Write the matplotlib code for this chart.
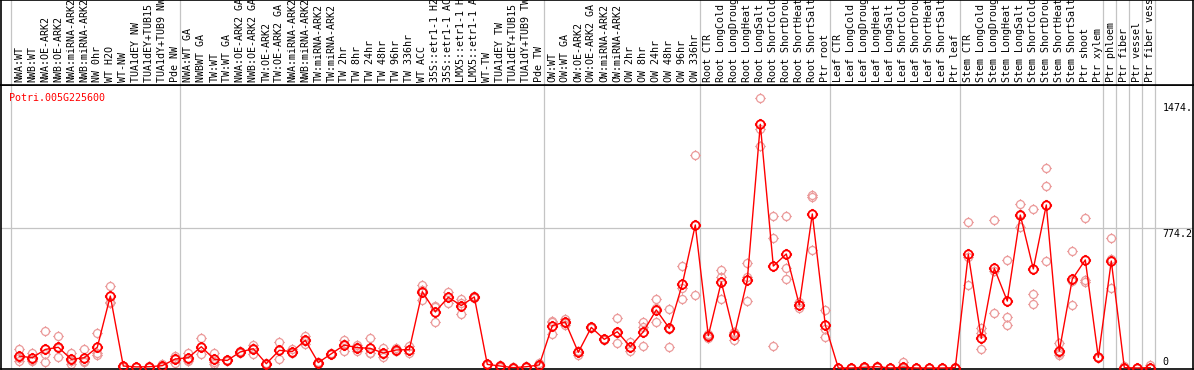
"""Expression profile of Potri.005G225600 across sample groups."""

import numpy as np
import matplotlib
matplotlib.use("Agg")
import matplotlib.pyplot as plt
from matplotlib.path import Path


GENE = "Potri.005G225600"

labels = [
    "NWA:WT", "NWB:WT", "NWA:OE-ARK2", "NWB:OE-ARK2", "NWA:miRNA-ARK2",
    "NWB:miRNA-ARK2", "NW 0hr", "WT H2O", "WT-NW", "TUA1dEY NW",
    "TUA1dEY+TUB15 NW", "TUA1dY+TUB9 NW", "Pde NW",
    "NWA:WT GA", "NWBWT GA", "TW:WT", "TW:WT GA", "NWA:OE-ARK2 GA",
    "NWB:OE-ARK2 GA", "TW:OE-ARK2", "TW:OE-ARK2 GA", "NWA:miRNA-ARK2",
    "NWB:miRNA-ARK2", "TW:miRNA-ARK2", "TW:miRNA-ARK2", "TW 2hr", "TW 8hr",
    "TW 24hr", "TW 48hr", "TW 96hr", "TW 336hr", "WT ACC",
    "35S::etr1-1 H2O", "35S::etr1-1 ACC", "LMX5::etr1-1 H2O",
    "LMX5::etr1-1 ACC", "WT-TW", "TUA1dEY TW", "TUA1dEY+TUB15 TW",
    "TUA1dY+TUB9 TW", "Pde TW",
    "OW:WT", "OW:WT GA", "OW:OE-ARK2", "OW:OE-ARK2 GA", "OW:miRNA-ARK2",
    "OW:miRNA-ARK2", "OW 2hr", "OW 8hr", "OW 24hr", "OW 48hr", "OW 96hr",
    "OW 336hr",
    "Root CTR", "Root LongCold", "Root LongDrought", "Root LongHeat",
    "Root LongSalt", "Root ShortCold", "Root ShortDrought", "Root ShortHeat",
    "Root ShortSalt", "Ptr root",
    "Leaf CTR", "Leaf LongCold", "Leaf LongDrought", "Leaf LongHeat",
    "Leaf LongSalt", "Leaf ShortCold", "Leaf ShortDrought", "Leaf ShortHeat",
    "Leaf ShortSalt", "Ptr leaf",
    "Stem CTR", "Stem LongCold", "Stem LongDrought", "Stem LongHeat",
    "Stem LongSalt", "Stem ShortCold", "Stem ShortDrought", "Stem ShortHeat",
    "Stem ShortSalt", "Ptr shoot", "Ptr xylem",
    "Ptr phloem", "Ptr fiber", "Ptr vessel", "Ptr fiber vessel",
]

# index of the first sample of each group (gray separators)
group_starts = [0, 13, 41, 53, 63, 73, 84, 85, 86, 87, 88]

means = [
    66, 57, 103, 115, 48, 57, 115, 399, 11, 6, 7, 13, 50,
    57, 118, 48, 42, 89, 107, 24, 98, 91, 153, 30, 79, 127, 113, 109, 83,
    100, 102, 423, 312, 392, 346, 394, 20, 11, 2, 7, 17,
    235, 255, 87, 225, 159, 201, 118, 201, 322, 220, 464, 793,
    179, 477, 183, 488, 1351, 565, 632, 349, 854, 238,
    0, 0, 4, 7, 0, 4, 0, 0, 0, 2,
    630, 164, 552, 371, 848, 549, 904, 94, 493, 599, 59,
    593, 2, 0, 2,
]

rep_a = [
    103, 85, 203, 177, 85, 103, 194, 453, 8, 4, 5, 24, 66,
    85, 164, 85, 44, 85, 129, 24, 144, 107, 179, 33, 80, 153, 127, 164, 111,
    109, 122, 460, 346, 423, 381, 400, 18, 18, 0, 5, 28,
    261, 273, 72, 230, 159, 275, 146, 257, 381, 327, 564, 1181,
    164, 543, 155, 580, 1495, 843, 843, 368, 959, 322,
    0, 0, 6, 13, 0, 35, 0, 0, 0, 2,
    807, 220, 820, 597, 909, 880, 1107, 140, 649, 831, 59,
    719, 13, 0, 17,
]
rep_b = [
    41, 39, 76, 59, 20, 37, 85, 368, 12, 6, 7, 8, 30,
    39, 76, 24, 38, 92, 79, 22, 52, 82, 131, 22, 76, 94, 96, 81, 61,
    94, 83, 375, 253, 358, 297, 386, 22, 7, 3, 8, 11,
    188, 240, 95, 220, 155, 137, 94, 229, 253, 115, 442, 405,
    185, 506, 192, 506, 1231, 719, 552, 331, 946, 174,
    0, 1, 2, 4, 0, 0, 0, 0, 0, 1,
    617, 192, 538, 281, 783, 408, 1007, 81, 482, 488, 55,
    604, 0, 0, 0,
]
rep_c = [
    55, 47, 33, 109, 39, 31, 72, 358, 13, 8, 9, 7, 54,
    47, 114, 35, 44, 90, 113, 26, 98, 84, 150, 35, 82, 135, 116, 82, 78,
    96, 100, 434, 338, 395, 360, 396, 20, 8, 3, 9, 12,
    256, 252, 94, 225, 163, 192, 114, 120, 331, 218, 381, 793,
    188, 381, 202, 371, 1327, 122, 493, 349, 654, 218,
    0, 0, 4, 5, 1, 0, 0, 0, 1, 3,
    460, 103, 303, 238, 852, 353, 593, 72, 349, 479, 63,
    442, 0, 0, 0,
]

tick_values = [1474, 774.2, 0]
tick_texts = ["1474.", "774.2", "0"]


def sun_marker():
    """Open circle with four short spikes."""
    circle = Path.unit_circle()
    spikes = Path(
        [[1, 0], [1.33, 0], [-1, 0], [-1.33, 0],
         [0, 1], [0, 1.33], [0, -1], [0, -1.33]],
        [Path.MOVETO, Path.LINETO] * 4,
    )
    return Path.make_compound_path(circle, spikes)


def plot_profile():
    W, H = 1194, 370
    fig = plt.figure(figsize=(W / 100, H / 100), dpi=100)

    x = np.arange(len(labels))
    xlim = ((1 - 19.3) / 13, (1193 - 19.3) / 13)
    px_per_unit = 0.1804
    ylim = ((368 - 369) / px_per_unit, (368 - 85) / px_per_unit)

    ax = fig.add_axes([1 / W, 1 / H, 1192 / W, 284 / H])
    hx = fig.add_axes([1 / W, 285 / H, 1192 / W, 85 / H])

    for a in (ax, hx):
        a.set_xlim(*xlim)
        a.set_xticks([])
        a.set_yticks([])
        for s in a.spines.values():
            s.set_color("black")
            s.set_linewidth(1.2)
        for g in group_starts:
            a.axvline(g - 0.64, color="#c4c4c4", lw=0.9, zorder=0)

    ax.set_ylim(*ylim)
    hx.set_ylim(0, 1)
    ax.axhline(774.2, color="#c4c4c4", lw=0.9, zorder=0)

    marker = sun_marker()
    for reps in (rep_a, rep_b, rep_c):
        ax.plot(x, reps, linestyle="none", marker=marker, markersize=7.6,
                markerfacecolor="none", markeredgecolor="#eb9a9a",
                markeredgewidth=0.9, zorder=2, clip_on=False)
    ax.plot(x, means, color="#ff0000", lw=1.0, zorder=3)
    ax.plot(x, means, linestyle="none", marker=marker, markersize=8,
            markerfacecolor="none", markeredgecolor="#ff0000",
            markeredgewidth=1.3, zorder=4, clip_on=False)

    font = dict(family="DejaVu Sans Mono", fontsize=7.2)
    for i, lab in enumerate(labels):
        hx.text(i, 3 / 85, lab, rotation=90, ha="center", va="bottom",
                color="black", clip_on=True, **font)

    ax.text(-0.77, ylim[1] - 8 / px_per_unit, GENE, color="#ff0000",
            ha="left", va="top", **font)

    for v, t in zip(tick_values, tick_texts):
        va = "bottom" if v == 0 else "top"
        yy = v - 1 / px_per_unit if v else v + 1 / px_per_unit
        ax.text(87.93, yy, t, ha="left", va=va, color="black", **font)

    plt.savefig("out.png", dpi=100)
    print("Saved out.png")


if __name__ == "__main__":
    plot_profile()
